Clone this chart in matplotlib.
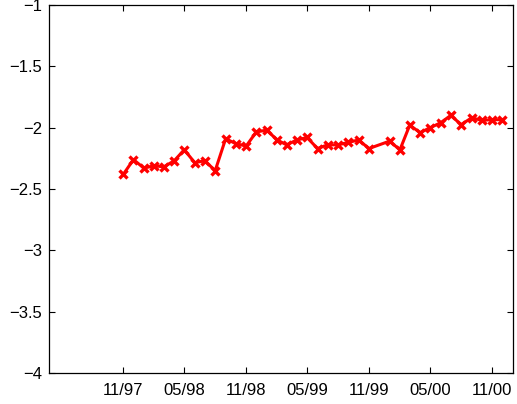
import datetime as dt
import matplotlib
matplotlib.use("Agg")
import matplotlib.pyplot as plt

# Monthly observations (year, month); Dec 1999 has no value
months = [
    (1997, 11), (1997, 12), (1998, 1), (1998, 2), (1998, 3), (1998, 4),
    (1998, 5), (1998, 6), (1998, 7), (1998, 8), (1998, 9), (1998, 10),
    (1998, 11), (1998, 12), (1999, 1), (1999, 2), (1999, 3), (1999, 4),
    (1999, 5), (1999, 6), (1999, 7), (1999, 8), (1999, 9), (1999, 10),
    (1999, 11), (2000, 1), (2000, 2), (2000, 3), (2000, 4),
    (2000, 5), (2000, 6), (2000, 7), (2000, 8), (2000, 9), (2000, 10),
    (2000, 11), (2000, 12),
]
values = [
    -2.38, -2.26, -2.33, -2.31, -2.32, -2.27,
    -2.18, -2.285, -2.27, -2.35, -2.09, -2.13,
    -2.15, -2.035, -2.02, -2.10, -2.14, -2.10,
    -2.08, -2.17, -2.14, -2.14, -2.12, -2.10,
    -2.17, -2.11, -2.18, -1.98, -2.04,
    -2.00, -1.96, -1.90, -1.975, -1.92, -1.94,
    -1.935, -1.935,
]
tick_months = [(1997, 11), (1998, 5), (1998, 11), (1999, 5), (1999, 11), (2000, 5), (2000, 11)]
tick_labels = ["11/97", "05/98", "11/98", "05/99", "11/99", "05/00", "11/00"]
y_ticks = [-4, -3.5, -3, -2.5, -2, -1.5, -1]
y_labels = ["\u22124", "\u22123.5", "\u22123", "\u22122.5", "\u22122", "\u22121.5", "\u22121"]

plt.rcParams["font.family"] = ["Liberation Sans", "DejaVu Sans"]

dates = [dt.datetime(y, m, 1) for y, m in months]
tick_dates = [dt.datetime(y, m, 1) for y, m in tick_months]

fig = plt.figure(figsize=(5.17, 4.04), dpi=100)
ax = fig.add_axes([49 / 517, 1 - 373 / 404, (513 - 49) / 517, (373 - 5) / 404])

ax.plot(dates, values, color="#ff0000", linewidth=2.2, marker="x",
        markersize=5.5, markeredgewidth=2.4)

ax.set_xlim(dt.datetime(1997, 3, 25), dt.datetime(2001, 1, 2))
ax.set_ylim(-4, -1)
ax.set_xticks(tick_dates)
ax.set_xticklabels(tick_labels)
ax.set_yticks(y_ticks)
ax.set_yticklabels(y_labels)

ax.tick_params(direction="in", length=4, width=0.8, top=True, right=True,
               labelsize=12)
ax.tick_params(axis="x", pad=7)
ax.tick_params(axis="y", pad=5)
for s in ax.spines.values():
    s.set_linewidth(0.9)

fig.savefig("out.png", dpi=100)
